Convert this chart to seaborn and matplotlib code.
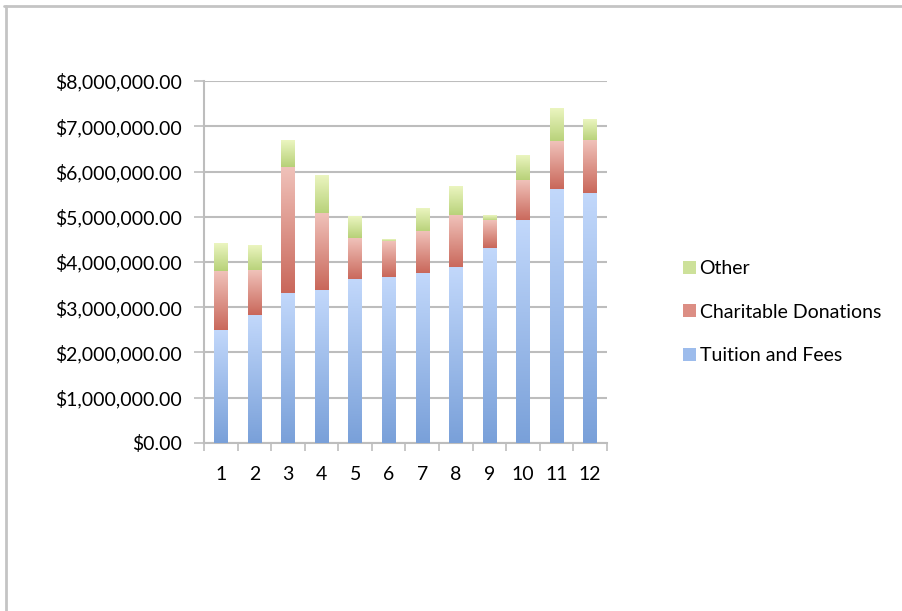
import numpy as np
import pandas as pd
import matplotlib
matplotlib.use("Agg")
import matplotlib.pyplot as plt
from matplotlib.colors import LinearSegmentedColormap
from matplotlib.patches import Patch
from matplotlib.lines import Line2D
from matplotlib.ticker import FuncFormatter, FixedLocator
import seaborn as sns

# Monthly revenue by source
months = ["1", "2", "3", "4", "5", "6", "7", "8", "9", "10", "11", "12"]
tuition = [2.48e6, 2.82e6, 3.31e6, 3.38e6, 3.61e6, 3.66e6, 3.75e6, 3.87e6, 4.30e6, 4.91e6, 5.61e6, 5.52e6]
donations = [1.32e6, 0.98e6, 2.78e6, 1.68e6, 0.91e6, 0.79e6, 0.92e6, 1.15e6, 0.61e6, 0.90e6, 1.04e6, 1.16e6]
other = [0.60e6, 0.57e6, 0.58e6, 0.85e6, 0.48e6, 0.06e6, 0.53e6, 0.66e6, 0.13e6, 0.55e6, 0.75e6, 0.48e6]
series_names = ["Tuition and Fees", "Charitable Donations", "Other"]

# gradient (top, bottom) and legend swatch colours per series
grad = {
    "Tuition and Fees": ("#c2d8fb", "#79a0d9"),
    "Charitable Donations": ("#f0c2ba", "#c9675a"),
    "Other": ("#ebf5c0", "#b7d178"),
}
swatch = {
    "Tuition and Fees": "#9dbcec",
    "Charitable Donations": "#dc8e84",
    "Other": "#cde19a",
}

df = pd.DataFrame({"month": months, "tuition": tuition,
                   "donations": donations, "other": other})
df["lvl1"] = df["tuition"]
df["lvl2"] = df["tuition"] + df["donations"]
df["lvl3"] = df["lvl2"] + df["other"]

sns.set_theme(style="white")
font = "Lato"
plt.rcParams["font.family"] = [font, "DejaVu Sans"]
fs = 14
txt_c = "#000000"

fig = plt.figure(figsize=(9.03, 6.11), dpi=100)
ax = fig.add_axes([0.2259, 0.2750, 0.6722 - 0.2259, 0.8674 - 0.2750])

bar_w = 0.4
layers = [("lvl3", "lvl2", "Other"),
          ("lvl2", "lvl1", "Charitable Donations"),
          ("lvl1", None, "Tuition and Fees")]
for top_col, bot_col, name in layers:
    sns.barplot(data=df, x="month", y=top_col, order=months, color=swatch[name],
                width=bar_w, saturation=1, ax=ax, errorbar=None, zorder=2,
                linewidth=0)

# replace flat fills with vertical gradients over each visible segment
ax.set_ylim(0, 8e6)
ax.set_xlim(-0.5, 11.5)
grad_img = np.linspace(0, 1, 256).reshape(-1, 1)
for top_col, bot_col, name in layers:
    cmap = LinearSegmentedColormap.from_list(name, [grad[name][0], grad[name][1]])
    tops = df[top_col].to_numpy()
    bots = df[bot_col].to_numpy() if bot_col else np.zeros(len(df))
    for i in range(len(df)):
        ax.imshow(grad_img, cmap=cmap, aspect="auto", interpolation="bilinear",
                  extent=(i - bar_w / 2, i + bar_w / 2, bots[i], tops[i]),
                  origin="upper", zorder=3)
ax.set_ylim(0, 8e6)
ax.set_xlim(-0.5, 11.5)

# axes styling
grid_c = "#bdbdbd"
ax.set_yticks(np.arange(0, 8.01e6, 1e6))
ax.yaxis.set_major_formatter(FuncFormatter(lambda v, p: f"${v:,.2f}"))
ax.yaxis.grid(True, color=grid_c, linewidth=1.5, zorder=0)
ax.set_axisbelow(True)
ax.xaxis.set_major_locator(FixedLocator(np.arange(-0.5, 12, 1)))
ax.xaxis.set_minor_locator(FixedLocator(np.arange(0, 12, 1)))
ax.set_xticklabels([""] * 13)
ax.set_xticklabels(months, minor=True)
ax.tick_params(axis="x", which="major", length=6, width=1.2, color=grid_c, direction="out", bottom=True)
ax.tick_params(axis="x", which="minor", length=0, pad=16.5, labelsize=fs, labelcolor=txt_c)
ax.tick_params(axis="y", length=7, width=1.2, color=grid_c, direction="out", left=True,
               pad=9, labelsize=fs, labelcolor=txt_c)
ax.set_xlabel("")
ax.set_ylabel("")
for s in ["top", "right"]:
    ax.spines[s].set_visible(False)
for s in ["left", "bottom"]:
    ax.spines[s].set_color(grid_c)
    ax.spines[s].set_linewidth(1.5)

# legend
handles = [Patch(facecolor=swatch[n], edgecolor="none") for n in ["Other", "Charitable Donations", "Tuition and Fees"]]
labels = ["Other", "Charitable Donations", "Tuition and Fees"]
fig.legend(handles, labels, loc="center left", bbox_to_anchor=(0.737, 0.489),
           frameon=False, fontsize=fs, handlelength=0.65, handleheight=0.65,
           handletextpad=0.2, labelspacing=1.36, labelcolor=txt_c)

# sheet frame lines along top and left edges
fig.add_artist(Line2D([0.004, 1.0], [1 - 5.5 / 611, 1 - 5.5 / 611], transform=fig.transFigure,
                      color="#c4c4c4", linewidth=2))
fig.add_artist(Line2D([6 / 903, 6 / 903], [0, 1 - 5.5 / 611], transform=fig.transFigure,
                      color="#c4c4c4", linewidth=2))

fig.savefig("out.png", dpi=100)
